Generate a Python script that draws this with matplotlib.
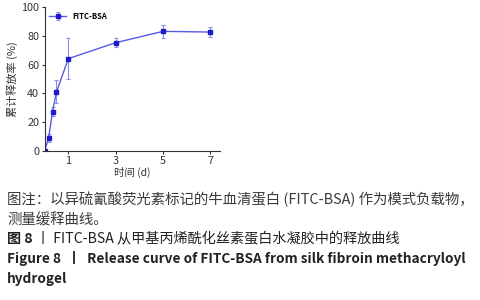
import matplotlib
matplotlib.use("Agg")
import matplotlib.pyplot as plt

plt.rcParams['font.family'] = ['Noto Sans CJK SC', 'DejaVu Sans']

time_d = [0, 4/24, 8/24, 12/24, 1, 3, 5, 7]
release = [0, 8.9, 27.4, 41.0, 64.2, 75.3, 83.2, 82.7]
err = [0, 2.8, 3.3, 8.0, 14.3, 3.1, 4.3, 3.4]
xticks = [1, 3, 5, 7]
yticks = [0, 20, 40, 60, 80, 100]
series_label = "FITC-BSA"

fig = plt.figure(figsize=(4.8, 3.0), dpi=100)
ax = fig.add_axes([0.093, 0.497, 0.365, 0.479])

ax.errorbar(time_d, release, yerr=err, color='#5a5ae0', lw=1.0,
            ecolor='#8c8cec', elinewidth=0.8, capsize=1.5, capthick=0.8,
            marker='s', ms=2.5, mfc='#1c1cc8', mec='#1c1cc8', label=series_label)

ax.set_xlim(0, 7.4)
ax.set_ylim(0, 100)
ax.set_xticks(xticks)
ax.set_yticks(yticks)
ax.spines['top'].set_visible(False)
ax.spines['right'].set_visible(False)
for s in ['left', 'bottom']:
    ax.spines[s].set_linewidth(0.8)
    ax.spines[s].set_color('#333333')
ax.tick_params(direction='out', length=2.5, width=0.8, labelsize=7.8,
               colors='#333333', pad=1.5)
ax.set_xlabel('时间 (d)', fontsize=7.5, color='#333333', labelpad=0)
ax.set_ylabel('累计释放率 (%)', fontsize=8, color='#333333', labelpad=2)

leg = ax.legend(loc='upper left', frameon=False,
                prop={'weight': 'bold', 'size': 5.5}, handlelength=2.2,
                borderaxespad=0.2, bbox_to_anchor=(0.0, 1.0))

cap = '#3a3a3a'
fig.text(0.015, 1 - 199/300, '图注：以异硫氰酸荧光素标记的牛血清蛋白 (FITC-BSA) 作为模式负载物，',
         fontsize=10.4, color=cap, va='center')
fig.text(0.015, 1 - 220/300, '测量缓释曲线。', fontsize=10.4, color=cap, va='center')
fig.text(0.015, 1 - 239/300, '图 8',
         fontsize=10.2, color='#222222', va='center', weight='bold')
fig.text(0.075, 1 - 239/300, '丨 FITC-BSA 从甲基丙烯酰化丝素蛋白水凝胶中的释放曲线',
         fontsize=10.2, color='#222222', va='center', weight='medium')
fig.text(0.015, 1 - 259/300, 'Figure 8  丨  Release curve of FITC-BSA from silk fibroin methacryloyl',
         fontsize=9.8, color='#222222', va='center', weight='bold')
fig.text(0.015, 1 - 279/300, 'hydrogel', fontsize=9.8, color='#222222', va='center', weight='bold')

fig.savefig('out.png', dpi=100)
